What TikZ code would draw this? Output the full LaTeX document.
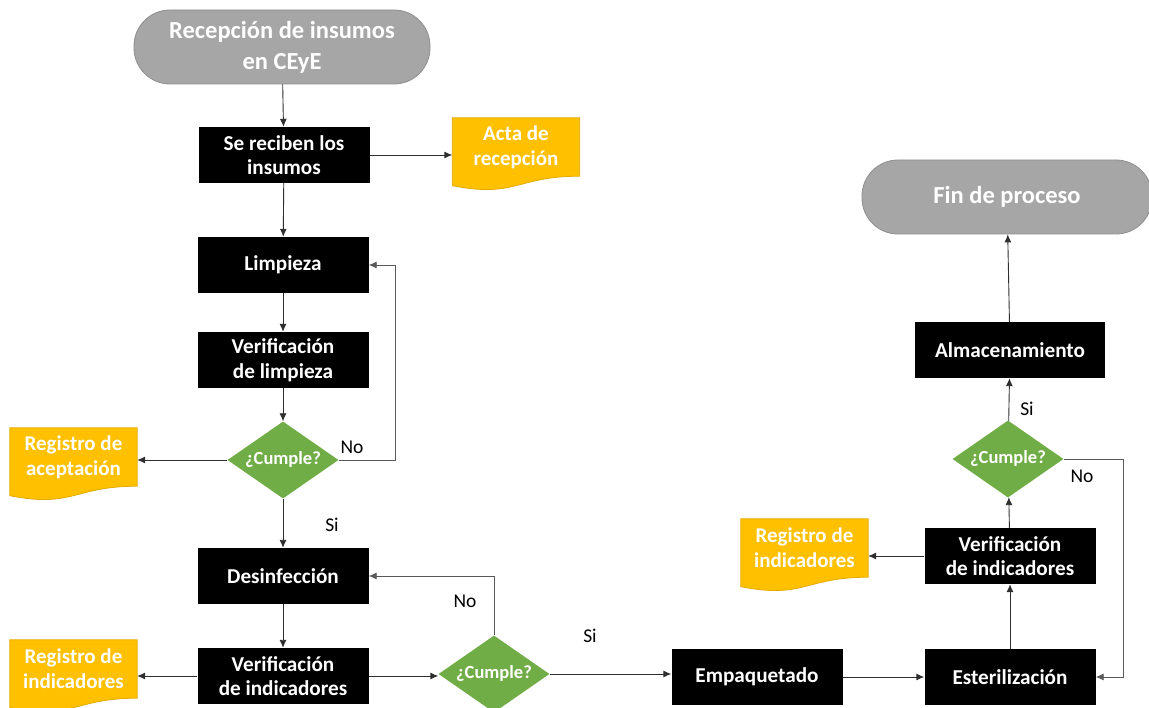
\documentclass[tikz,border=0pt]{standalone}
\usepackage{fontspec}
\setmainfont{Carlito}
\usetikzlibrary{shapes.geometric,arrows.meta,calc,backgrounds}
\definecolor{termgray}{HTML}{A6A6A6}
\definecolor{termedge}{HTML}{8F8F8F}
\definecolor{docgold}{HTML}{FFC000}
\definecolor{docedge}{HTML}{E3AA00}
\definecolor{decgreen}{HTML}{70AD47}
\definecolor{linegray}{HTML}{2E2E2E}
\definecolor{loopgray}{HTML}{595959}

\begin{document}
\begin{tikzpicture}[x=1pt,y=-1pt,
  terminal/.style={rectangle, rounded corners=36pt, fill=termgray, draw=termedge,
    line width=0.8pt, minimum width=#1, minimum height=74pt, text=white,
    font=\bfseries\fontsize{24.5}{31}\selectfont, align=center, inner sep=0pt},
  process/.style={rectangle, fill=black, minimum width=#1, minimum height=56pt,
    text=white, font=\bfseries\fontsize{21.2}{24.5}\selectfont, align=center, inner sep=0pt},
  process/.default=171pt,
  docbox/.style={rectangle, minimum width=127pt, minimum height=58pt, text=white,
    font=\bfseries\fontsize{21}{25}\selectfont, align=center, inner sep=0pt},
  decision/.style={diamond, fill=decgreen, minimum width=111pt, minimum height=77pt,
    inner sep=0pt,
    label={[text=white, inner sep=0pt, font=\bfseries\fontsize{18.5}{20}\selectfont]center:¿Cumple?}},
  flow/.style={draw=linegray, line width=0.9pt, -{Latex[length=8pt,width=7pt]}},
  back/.style={flow, draw=loopgray},
  tag/.style={font=\fontsize{19.5}{22}\selectfont, text=black, inner sep=0pt}
]
\clip (0,0) rectangle (1149,708);
\useasboundingbox (0,0) rectangle (1149,708);

% start and end of the process
\node[terminal=296pt] (start) at (282,47) {Recepción de insumos\\en CEyE};
\node[terminal=290pt] (fin) at (1007,197) {Fin de proceso};

% process steps
\node[process] (recibe) at (284,155) {Se reciben los\\insumos};
\node[process] (limp) at (283,265) {Limpieza};
\node[process] (verlimp) at (283,360) {Verificación\\de limpieza};
\node[process] (desinf) at (283,576) {Desinfección};
\node[process] (verindA) at (283,676) {Verificación\\de indicadores};
\node[process] (empaq) at (757,677) {Empaquetado};
\node[process] (ester) at (1010,677) {Esterilización};
\node[process] (verindB) at (1010,556) {Verificación\\de indicadores};
\node[process=190pt] (alm) at (1010,350) {Almacenamiento};

% decisions (the question is set as a centred label)
\node[decision] (decA) at (283,460) {};
\node[decision] (decB) at (494,674) {};
\node[decision] (decC) at (1008,459) {};

% documents (text area; the wavy sheet is drawn behind)
\node[docbox] (acta) at (516,147) {Acta de\\recepción};
\node[docbox] (regacep) at (73.5,457) {Registro de\\aceptación};
\node[docbox] (regindA) at (73.5,669) {Registro de\\indicadores};
\node[docbox] (regindB) at (804.5,548) {Registro de\\indicadores};

\begin{scope}[on background layer]
  \foreach \d in {acta,regacep,regindA,regindB}
    \filldraw[fill=docgold, draw=docedge, line width=0.8pt]
      (\d.north west) -- (\d.north east) -- (\d.south east)
      .. controls (\d.south) and ($(\d.south)+(0,22)$) .. ($(\d.south west)+(0,9.5)$)
      -- cycle;
\end{scope}

% branch labels
\node[tag] (noA) at (352,447) {No};
\node[tag] (siA) at (332,525) {Si};
\node[tag] (noB) at (465,601) {No};
\node[tag] (siB) at (590,636) {Si};
\node[tag] (siC) at (1027,409) {Si};
\node[tag] (noC) at (1082,476) {No};

% connectors
\draw[flow] (start) -- (recibe);
\draw[flow] (recibe.east) -- (recibe.east -| acta.west);
\draw[flow] (recibe) -- (limp);
\draw[flow] (limp) -- (verlimp);
\draw[flow] (verlimp) -- (decA);
\draw[flow] (decA.west) -- (decA.west -| regacep.east);
\draw[back] (decA.east) -- (395,460) |- (limp.east);
\draw[flow] (decA) -- (desinf);
\draw[flow] (desinf) -- (verindA);
\draw[flow] (verindA.west) -- (verindA.west -| regindA.east);
\draw[flow] (verindA.east) -- (verindA.east -| decB.west);
\draw[back] (decB.north) |- (desinf.east);
\draw[flow] (decB.east) -- (decB.east -| empaq.west);
\draw[flow] (empaq) -- (ester);
\draw[flow] (ester) -- (verindB);
\draw[flow] (verindB.west) -- (verindB.west -| regindB.east);
\draw[flow] (verindB) -- (decC);
\draw[back] (decC.east) -- (1123,459) |- (ester.east);
\draw[flow] (decC) -- (alm);
\draw[flow] (alm) -- (fin);
\end{tikzpicture}
\end{document}
